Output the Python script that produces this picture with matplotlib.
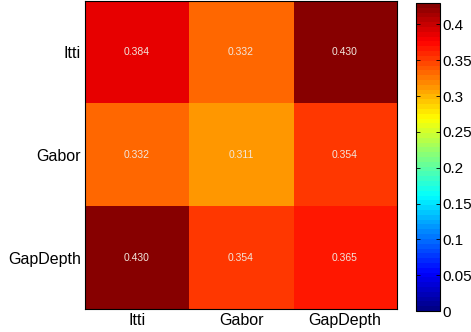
import numpy as np
import matplotlib
matplotlib.use('Agg')
import matplotlib.pyplot as plt
from matplotlib.colors import ListedColormap

plt.rcParams['font.family'] = ['Liberation Sans', 'DejaVu Sans']

labels = ['Itti', 'Gabor', 'GapDepth']
sim = np.array([[0.384, 0.332, 0.430],
                [0.332, 0.311, 0.354],
                [0.430, 0.354, 0.365]])
cbar_ticks = [0, 0.05, 0.1, 0.15, 0.2, 0.25, 0.3, 0.35, 0.4]
cbar_ticklabels = ['0', '0.05', '0.1', '0.15', '0.2', '0.25', '0.3', '0.35', '0.4']


def matlab_jet(n=64):
    # piecewise-linear jet as in MATLAB, n discrete colours
    x = (np.arange(n) + 0.5) / n
    r = np.clip(np.minimum(4 * x - 1.5, -4 * x + 4.5), 0, 1)
    g = np.clip(np.minimum(4 * x - 0.5, -4 * x + 3.5), 0, 1)
    b = np.clip(np.minimum(4 * x + 0.5, -4 * x + 2.5), 0, 1)
    return ListedColormap(np.column_stack([r, g, b]))


fig = plt.figure(figsize=(4.71, 3.32), dpi=100)
ax = fig.add_axes([0.1805, 0.069, 0.6625, 0.928])
im = ax.imshow(sim, cmap=matlab_jet(), vmin=0, vmax=sim.max(), aspect='auto')

for i in range(sim.shape[0]):
    for j in range(sim.shape[1]):
        ax.text(j, i, '%.3f' % sim[i, j], ha='center', va='center',
                color='#f2e6dc', fontsize=7.5)

ax.set_xticks(range(len(labels)))
ax.set_xticklabels(labels, fontsize=11.5)
ax.set_yticks(range(len(labels)))
ax.set_yticklabels(labels, fontsize=11.5)
ax.tick_params(length=0, pad=3)
for s in ax.spines.values():
    s.set_linewidth(0.8)

cax = fig.add_axes([0.883, 0.063, 0.051, 0.928])
cb = fig.colorbar(im, cax=cax)
cb.set_ticks(cbar_ticks)
cb.set_ticklabels(cbar_ticklabels)
cax.tick_params(labelsize=11, direction='in', length=3, width=0.6,
                left=True, right=True, pad=2)
cb.outline.set_linewidth(0.8)

fig.savefig('out.png', dpi=100)
